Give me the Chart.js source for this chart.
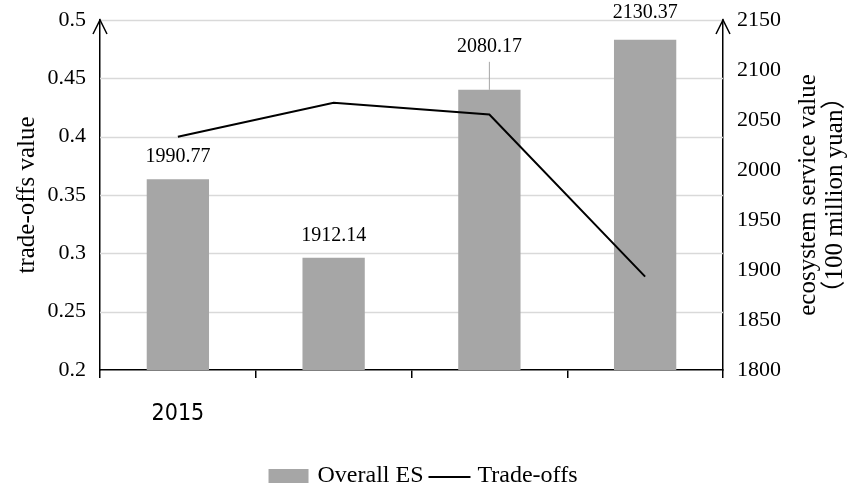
<!DOCTYPE html>
<html>
<head>
<meta charset="utf-8">
<script src="https://cdn.jsdelivr.net/npm/chart.js@4.4.1/dist/chart.umd.min.js"></script>
<style>
  html, body { margin: 0; padding: 0; background: #fff; }
  #wrap { width: 856px; height: 488px; }
</style>
</head>
<body>
<div id="wrap"><canvas id="chart" width="856" height="488"></canvas></div>
<script>
// data
const categories = ['2015', '', '', ''];
const overallES = [1990.77, 1912.14, 2080.17, 2130.37];
const tradeOffs = [0.400, 0.429, 0.419, 0.280];
const leftTicks = [0.2, 0.25, 0.3, 0.35, 0.4, 0.45, 0.5];
const rightTicks = [1800, 1850, 1900, 1950, 2000, 2050, 2100, 2150];

// how far each value label sits above its bar
const labelLift = [22, 22, 43, 27];

const serif = "'Liberation Serif', 'Times New Roman', 'Noto Sans CJK SC', serif";
const narrow = "'Liberation Sans Narrow', 'DejaVu Sans Condensed', 'Liberation Sans', sans-serif";
const barGrey = '#a6a6a6';

const decor = {
  id: 'decor',
  beforeDatasetsDraw(chart) {
    // horizontal grid lines of the left axis
    const ctx = chart.ctx;
    const a = chart.chartArea;
    const y = chart.scales.y;
    ctx.save();
    ctx.strokeStyle = '#d9d9d9';
    ctx.lineWidth = 1.5;
    leftTicks.slice(1).forEach(v => {
      const py = Math.round(y.getPixelForValue(v)) + 0.5;
      ctx.beginPath();
      ctx.moveTo(a.left, py);
      ctx.lineTo(a.right, py);
      ctx.stroke();
    });
    ctx.restore();
  },
  afterDatasetsDraw(chart) {
    const ctx = chart.ctx;
    const bars = chart.getDatasetMeta(0).data;
    ctx.save();
    ctx.font = '20px ' + serif;
    ctx.textAlign = 'center';
    ctx.textBaseline = 'middle';
    ctx.fillStyle = '#000';
    bars.forEach((b, i) => {
      const y = b.y - labelLift[i];
      if (labelLift[i] > 30) {
        ctx.strokeStyle = barGrey;
        ctx.lineWidth = 1;
        ctx.beginPath();
        ctx.moveTo(b.x, y + 15);
        ctx.lineTo(b.x, b.y);
        ctx.stroke();
      }
      ctx.fillText(overallES[i].toFixed(2), b.x, y);
    });
    ctx.restore();
  },
  afterDraw(chart) {
    const ctx = chart.ctx;
    const a = chart.chartArea;
    ctx.save();

    // open arrow heads on both value axes
    ctx.strokeStyle = '#000';
    ctx.lineWidth = 1.5;
    [chart.scales.y.right, chart.scales.y1.left].forEach(x => {
      ctx.beginPath();
      ctx.moveTo(x - 7, a.top + 14);
      ctx.lineTo(x, a.top);
      ctx.lineTo(x + 7, a.top + 14);
      ctx.stroke();
    });

    // right axis title, reading bottom to top
    ctx.fillStyle = '#000';
    ctx.font = '25px ' + serif;
    ctx.textAlign = 'center';
    ctx.textBaseline = 'middle';
    const midY = (a.top + a.bottom) / 2;
    ctx.save();
    ctx.translate(808, midY);
    ctx.rotate(-Math.PI / 2);
    ctx.fillText('ecosystem service value', 0, 0);
    ctx.fillText('（100 million yuan）', 0, 27);
    ctx.restore();

    // legend
    const ly = 476;
    const t1 = 'Overall ES', t2 = 'Trade-offs';
    ctx.font = '24px ' + serif;
    ctx.textAlign = 'left';
    const w1 = ctx.measureText(t1).width, w2 = ctx.measureText(t2).width;
    const total = 40 + 9 + w1 + 5 + 42 + 7 + w2;
    let x = 423 - total / 2;
    ctx.fillStyle = barGrey;
    ctx.fillRect(x, ly - 7, 40, 14);
    x += 49;
    ctx.fillStyle = '#000';
    ctx.fillText(t1, x, ly);
    x += w1 + 5;
    ctx.lineWidth = 2;
    ctx.beginPath();
    ctx.moveTo(x, ly + 1);
    ctx.lineTo(x + 42, ly + 1);
    ctx.stroke();
    x += 49;
    ctx.fillText(t2, x, ly);

    ctx.restore();
  }
};

// keep the plot area fixed: no extra room for the end tick labels
const fitY = w => s => {
  s.width = w;
  s.paddingTop = 0;
  s.paddingBottom = 0;
};

new Chart(document.getElementById('chart'), {
  data: {
    labels: categories,
    datasets: [
      {
        type: 'bar',
        label: 'Overall ES',
        data: overallES,
        yAxisID: 'y1',
        backgroundColor: barGrey,
        borderWidth: 0,
        categoryPercentage: 1,
        barPercentage: 0.4,
        order: 1
      },
      {
        type: 'line',
        label: 'Trade-offs',
        data: tradeOffs,
        yAxisID: 'y',
        borderColor: '#000',
        borderWidth: 2,
        pointRadius: 0,
        tension: 0,
        fill: false,
        order: 0
      }
    ]
  },
  options: {
    responsive: false,
    animation: false,
    layout: { padding: { top: 20, left: 0, right: 0, bottom: 0 } },
    plugins: {
      legend: { display: false },
      tooltip: { enabled: false }
    },
    scales: {
      x: {
        type: 'category',
        offset: true,
        grid: { offset: true, drawOnChartArea: false, drawTicks: true, tickLength: 8, color: '#000', lineWidth: 1.5 },
        border: { color: '#000', width: 1.5 },
        ticks: { font: { family: narrow, size: 23 }, color: '#000', padding: 22, maxRotation: 0, autoSkip: false },
        afterFit: s => { s.height = 118; s.paddingLeft = 0; s.paddingRight = 0; }
      },
      y: {
        position: 'left',
        min: 0.2,
        max: 0.5,
        afterBuildTicks: s => { s.ticks = leftTicks.map(v => ({ value: v })); },
        grid: { drawOnChartArea: false, drawTicks: false },
        border: { color: '#000', width: 1.5 },
        ticks: { font: { family: serif, size: 22 }, color: '#000', padding: 14, callback: v => String(v) },
        title: { display: true, text: 'trade-offs value', font: { family: serif, size: 25 }, color: '#000', padding: { top: 12, bottom: 0 } },
        afterFit: fitY(100)
      },
      y1: {
        position: 'right',
        min: 1800,
        max: 2150,
        afterBuildTicks: s => { s.ticks = rightTicks.map(v => ({ value: v })); },
        grid: { drawOnChartArea: false, drawTicks: false },
        border: { color: '#000', width: 1.5 },
        ticks: { font: { family: serif, size: 22 }, color: '#000', padding: 14, callback: v => String(v) },
        afterFit: fitY(133)
      }
    }
  },
  plugins: [decor]
});
</script>
</body>
</html>
